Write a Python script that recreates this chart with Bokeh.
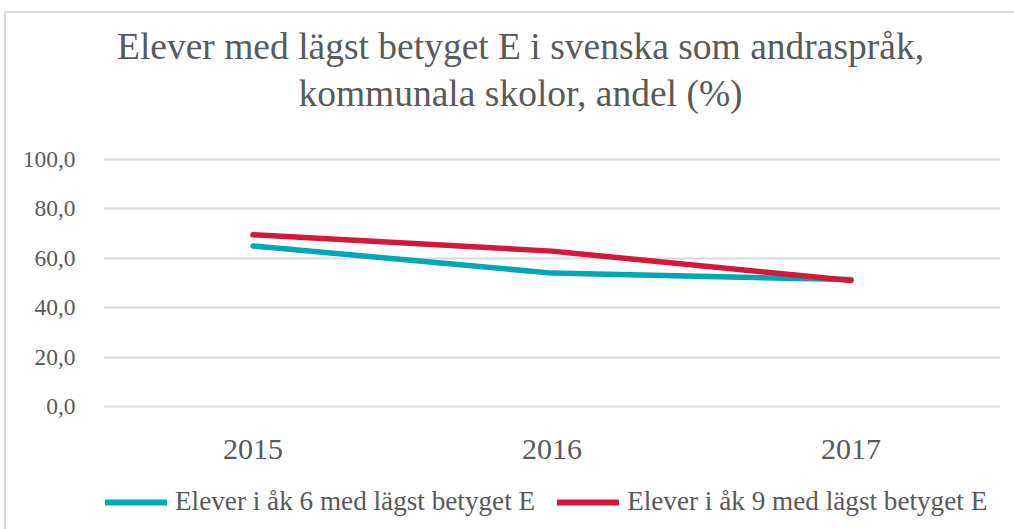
from bokeh.plotting import figure
from bokeh.layouts import column
from bokeh.models import Range1d, FactorRange, Legend, LegendItem, Label, FixedTicker
from bokeh.embed import file_html
from bokeh.resources import INLINE

years = ["2015", "2016", "2017"]
ak6 = [65.0, 54.0, 51.4]
ak9 = [69.5, 62.9, 51.0]
y_ticks = [0, 20, 40, 60, 80, 100]
y_tick_labels = ["0,0", "20,0", "40,0", "60,0", "80,0", "100,0"]
title_lines = ["Elever med lägst betyget E i svenska som andraspråk,",
               "kommunala skolor, andel (%)"]
series_names = ["Elever i åk 6 med lägst betyget E", "Elever i åk 9 med lägst betyget E"]
series_colors = ["#00a7b5", "#d5173b"]

FONT = "Liberation Serif"
TXT = "#595959"
W = 1014
FRAME_L, FRAME_R = 103, 1000   # frames of all strips are aligned by the column


def strip(h, x_range, y_range):
    f = figure(width=W, height=h, output_backend="svg", toolbar_location=None,
               x_axis_type=None, y_axis_type=None, x_range=x_range, y_range=y_range,
               min_border_left=0, min_border_right=0, min_border_top=0, min_border_bottom=0)
    f.outline_line_color = None
    f.background_fill_color = None
    f.border_fill_color = None
    f.xgrid.grid_line_color = None
    f.ygrid.grid_line_color = None
    return f


# ---- title strip (x in page pixels across the aligned frame, y in pixels from top)
tfig = strip(130, Range1d(FRAME_L, FRAME_R), Range1d(130, 0))
for line, yy in zip(title_lines, [46, 93]):
    tfig.add_layout(Label(x=520, y=yy, text=line, text_align="center", text_baseline="middle",
                          text_font=FONT, text_font_size="37.5px", text_color=TXT))

# ---- main chart
p = figure(width=W, height=339, output_backend="svg", toolbar_location=None,
           x_range=FactorRange(*years, range_padding=0), y_range=Range1d(-2, 102),
           min_border_left=FRAME_L, min_border_right=W - FRAME_R, min_border_top=24,
           min_border_bottom=58)
p.outline_line_color = None
p.background_fill_color = "white"
p.border_fill_color = None

p.line(years, ak6, line_color=series_colors[0], line_width=5.5, line_cap="round", line_join="round")
p.line(years, ak9, line_color=series_colors[1], line_width=5.5, line_cap="round", line_join="round")

p.xgrid.grid_line_color = None
p.ygrid.grid_line_color = "#d9d9d9"
p.ygrid.grid_line_width = 2

p.yaxis.ticker = FixedTicker(ticks=y_ticks)
p.yaxis.major_label_overrides = {t: s for t, s in zip(y_ticks, y_tick_labels)}
for ax in (p.xaxis[0], p.yaxis[0]):
    ax.axis_line_color = None
    ax.major_tick_line_color = None
    ax.minor_tick_line_color = None
    ax.major_label_text_font = FONT
    ax.major_label_text_color = TXT
p.yaxis.major_label_text_font_size = "23.5px"
p.yaxis.major_label_standoff = 22
p.xaxis.major_label_text_font_size = "30px"
p.xaxis.major_label_standoff = 22

# ---- legend strip (same series; y range set so only the legend swatches show)
lfig = strip(60, FactorRange(*years), Range1d(1000, 1001))
l6 = lfig.line(years, ak6, line_color=series_colors[0], line_width=6, line_cap="round")
l9 = lfig.line(years, ak9, line_color=series_colors[1], line_width=6, line_cap="round")
legend = Legend(items=[LegendItem(label=series_names[0], renderers=[l6]),
                       LegendItem(label=series_names[1], renderers=[l9])],
                orientation="horizontal", location=(2, 12),
                label_text_font=FONT, label_text_font_size="27.2px", label_text_color=TXT,
                glyph_width=62, glyph_height=30, label_height=30, label_standoff=8, spacing=22,
                padding=0, margin=0, border_line_color=None, background_fill_alpha=0)
lfig.add_layout(legend)

LINE = "linear-gradient(#d9d9d9,#d9d9d9)"
page = column(tfig, p, lfig, spacing=0, styles={
    "background-color": "white",
    "background-image": f"{LINE}, {LINE}",
    "background-size": "2px 100%, 100% 2px",
    "background-position": "4px 11px, 4px 11px",
    "background-repeat": "no-repeat",
})

open("out.html", "w").write(file_html(page, INLINE))
